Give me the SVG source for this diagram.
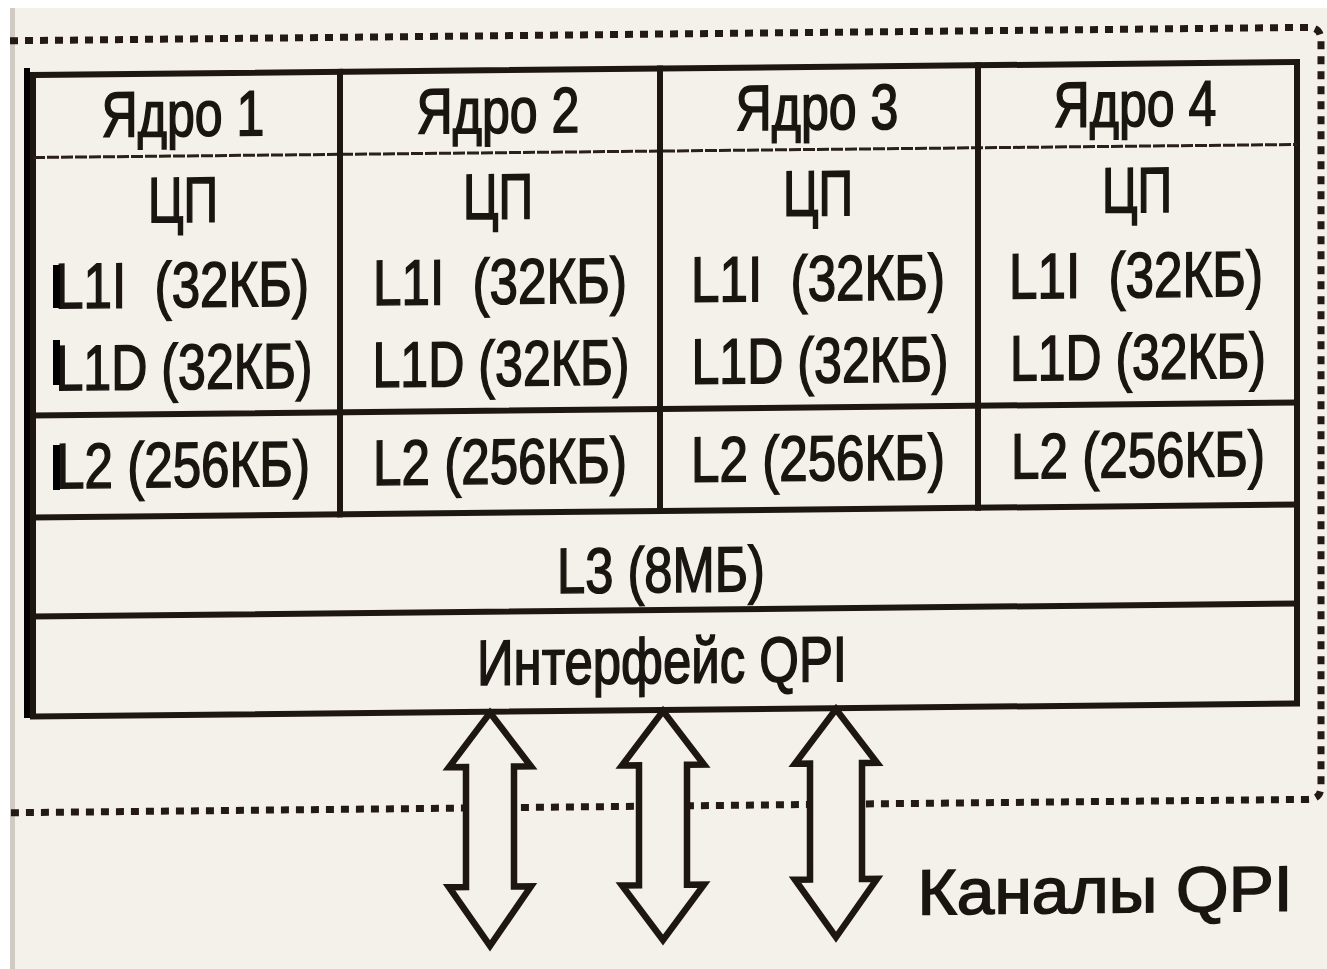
<svg xmlns="http://www.w3.org/2000/svg" width="1327" height="969" viewBox="0 0 1327 969">
<style>
.t{font-family:"Liberation Sans",Arial,sans-serif;font-size:64px;fill:#1b1512;stroke:#1b1512;stroke-width:1.6;text-anchor:middle}
.ln{stroke:#1e1611;stroke-width:6;fill:none;stroke-linecap:square}
.dot{stroke:#231a15;stroke-width:7;fill:none;stroke-dasharray:8 7}
.arr{fill:#f4f1ea;stroke:#1e1611;stroke-width:6.5;stroke-linejoin:miter}
</style>
<rect x="0" y="0" width="1327" height="969" fill="#ffffff"/>
<rect x="10" y="8" width="1317" height="961" fill="#f4f1ea"/>
<rect x="10" y="8" width="5" height="961" fill="#cfcac2"/>
<g transform="translate(0 6.85) skewY(-0.59)">
  <g id="connectors">
    <path class="dot" d="M10 34 H1308 Q1321 34 1321 47 V793 Q1321 806 1308 806 H10"/>
    <path id="qpi-link-1" class="arr" d="M490 711 L531 765 L514 765 L514 885 L531 885 L490 944 L449 885 L466 885 L466 765 L449 765 Z"/>
    <path id="qpi-link-2" class="arr" d="M663 711 L704 765 L687 765 L687 885 L704 885 L663 940 L622 885 L639 885 L639 765 L622 765 Z"/>
    <path id="qpi-link-3" class="arr" d="M836 711 L877 765 L862 765 L862 881 L877 881 L836 939 L795 881 L810 881 L810 765 L795 765 Z"/>
  </g>
  <g id="chip">
    <rect class="ln" x="33" y="68.5" width="1264" height="641.5"/>
    <line x1="33" y1="151" x2="1297" y2="151" stroke="#2a201a" stroke-width="3" stroke-dasharray="12 2"/>
    <line class="ln" x1="33" y1="409" x2="1297" y2="409"/>
    <line class="ln" x1="33" y1="511" x2="1297" y2="511"/>
    <line class="ln" x1="33" y1="610" x2="1297" y2="610"/>
    <line class="ln" x1="340" y1="68.5" x2="340" y2="511"/>
    <line class="ln" x1="660" y1="68.5" x2="660" y2="511"/>
    <line class="ln" x1="978" y1="68.5" x2="978" y2="511"/>
  </g>
  <g id="core1">
    <text class="t" x="183" y="131" textLength="163" lengthAdjust="spacingAndGlyphs">Ядро 1</text>
    <text class="t" x="183" y="217" font-size="66" textLength="70" lengthAdjust="spacingAndGlyphs">ЦП</text>
    <text class="t" x="182" y="302" textLength="254" lengthAdjust="spacingAndGlyphs" xml:space="preserve">L1I  (32КБ)</text>
    <text class="t" x="184" y="384" textLength="257" lengthAdjust="spacingAndGlyphs">L1D (32КБ)</text>
    <text class="t" x="183" y="482" textLength="254" lengthAdjust="spacingAndGlyphs">L2 (256КБ)</text>
  </g>
  <g id="core2">
    <text class="t" x="498" y="131" textLength="163" lengthAdjust="spacingAndGlyphs">Ядро 2</text>
    <text class="t" x="498" y="217" font-size="66" textLength="70" lengthAdjust="spacingAndGlyphs">ЦП</text>
    <text class="t" x="500" y="302" textLength="254" lengthAdjust="spacingAndGlyphs" xml:space="preserve">L1I  (32КБ)</text>
    <text class="t" x="501" y="384" textLength="257" lengthAdjust="spacingAndGlyphs">L1D (32КБ)</text>
    <text class="t" x="500" y="482" textLength="254" lengthAdjust="spacingAndGlyphs">L2 (256КБ)</text>
  </g>
  <g id="core3">
    <text class="t" x="817" y="131" textLength="163" lengthAdjust="spacingAndGlyphs">Ядро 3</text>
    <text class="t" x="818" y="217" font-size="66" textLength="70" lengthAdjust="spacingAndGlyphs">ЦП</text>
    <text class="t" x="818" y="302" textLength="254" lengthAdjust="spacingAndGlyphs" xml:space="preserve">L1I  (32КБ)</text>
    <text class="t" x="820" y="384" textLength="257" lengthAdjust="spacingAndGlyphs">L1D (32КБ)</text>
    <text class="t" x="818" y="482" textLength="254" lengthAdjust="spacingAndGlyphs">L2 (256КБ)</text>
  </g>
  <g id="core4">
    <text class="t" x="1135" y="131" textLength="163" lengthAdjust="spacingAndGlyphs">Ядро 4</text>
    <text class="t" x="1137" y="217" font-size="66" textLength="70" lengthAdjust="spacingAndGlyphs">ЦП</text>
    <text class="t" x="1136" y="302" textLength="254" lengthAdjust="spacingAndGlyphs" xml:space="preserve">L1I  (32КБ)</text>
    <text class="t" x="1138" y="384" textLength="256" lengthAdjust="spacingAndGlyphs">L1D (32КБ)</text>
    <text class="t" x="1138" y="482" textLength="254" lengthAdjust="spacingAndGlyphs">L2 (256КБ)</text>
  </g>
  <g id="l3">
    <text class="t" x="661" y="592" font-size="70" textLength="208" lengthAdjust="spacingAndGlyphs">L3 (8МБ)</text>
  </g>
  <g id="qpi-interface">
    <text class="t" x="662" y="683" textLength="370" lengthAdjust="spacingAndGlyphs">Интерфейс QPI</text>
  </g>
  <g id="qpi-channels-label">
    <text class="t" x="1105" y="917" font-size="98" stroke-width="2.2" textLength="375" lengthAdjust="spacingAndGlyphs">Каналы QPI</text>
  </g>
</g>
<g id="edit-marks" fill="#000000">
  <rect x="24" y="68" width="6" height="650"/>
  <rect x="53" y="265" width="7" height="43"/>
  <rect x="53" y="340" width="7" height="45"/>
  <rect x="53" y="445" width="7" height="45"/>
</g>
</svg>
